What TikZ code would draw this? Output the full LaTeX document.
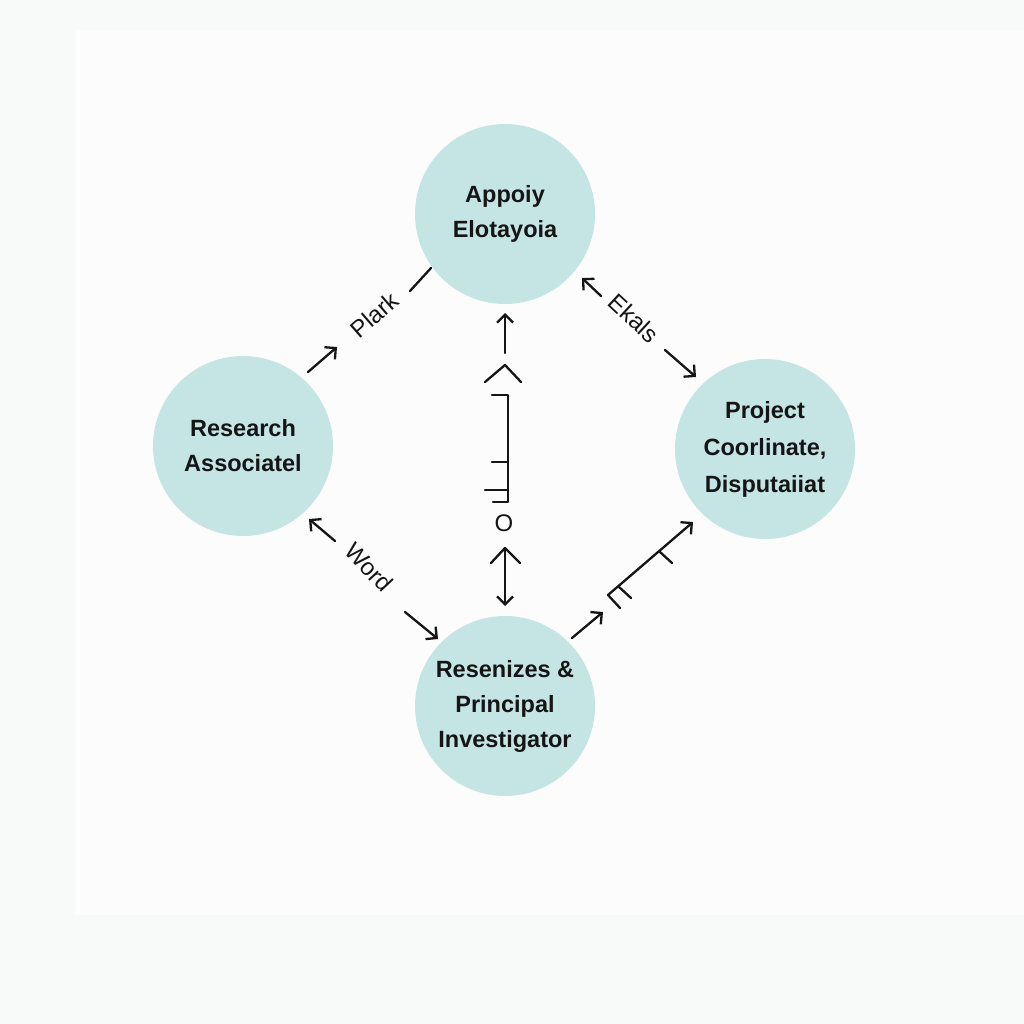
\documentclass[tikz,border=0pt]{standalone}
\usepackage{fontspec}
\setmainfont{Liberation Sans}
\usetikzlibrary{arrows.meta}
\definecolor{circfill}{HTML}{C4E5E4}
\definecolor{ink}{HTML}{151515}
\definecolor{bgA}{HTML}{F8F9F9}
\definecolor{bgB}{HTML}{FCFCFC}
\tikzset{
  role/.style={circle, fill=circfill, minimum size=180pt, inner sep=0pt, align=center,
    text=ink, font=\fontsize{23.5}{35}\selectfont\bfseries},
  lab/.style={text=ink, font=\fontsize{24}{26}\selectfont, inner sep=0pt},
  conn/.style={draw=ink, line width=2.3pt, line cap=round, line join=round},
  tip/.style={-{Straight Barb[length=8pt,width=16pt,line width=2.3pt]}}
}
\begin{document}
\begin{tikzpicture}[x=1pt,y=-1pt]
\useasboundingbox (0,0) rectangle (1024,1024);
\fill[bgA] (0,0) rectangle (1024,1024);
\fill[bgB] (75,30) rectangle (1024,915);

% nodes
\node[role] (T) at (505,214) {Appoiy\\Elotayoia};
\node[role] (L) at (243,446) {Research\\Associatel};
\node[role, font=\fontsize{23.5}{37}\selectfont\bfseries] (R) at (765,449) {Project\\Coorlinate,\\Disputaiiat};
\node[role] (B) at (505,706) {Resenizes \&\\Principal\\Investigator};

% left -> top
\coordinate (a1s) at (308,372); \coordinate (a1e) at (337,347);
\draw[conn,tip] (a1s) -- (a1e);
\node[lab,rotate=41] (plark) at (374,315) {Plark};
\coordinate (a1f) at (410,291); \coordinate (a1g) at (431,268);
\draw[conn] (a1f) -- (a1g);

% top <-> right
\coordinate (a2s) at (601,296); \coordinate (a2e) at (582,278);
\draw[conn,tip] (a2s) -- (a2e);
\node[lab,rotate=-43] (ekals) at (634,318) {Ekals};
\coordinate (a2f) at (665,350); \coordinate (a2g) at (696,377);
\draw[conn,tip] (a2f) -- (a2g);

% left <-> bottom
\coordinate (a3s) at (335,541); \coordinate (a3e) at (309,519);
\draw[conn,tip] (a3s) -- (a3e);
\node[lab,rotate=-47] (word) at (369,567) {Word};
\coordinate (a3f) at (405,612); \coordinate (a3g) at (438,639);
\draw[conn,tip] (a3f) -- (a3g);

% bottom -> right
\coordinate (a4s) at (572,638); \coordinate (a4e) at (603,612);
\draw[conn,tip] (a4s) -- (a4e);
\coordinate (a4f) at (608,595); \coordinate (a4g) at (693,522);
\draw[conn,tip] (a4f) -- (a4g);
\draw[conn] (a4f) -- (620,608);
\draw[conn] (619,587) -- (631,598);
\draw[conn] (660,552) -- (672,563);

% vertical centre
\coordinate (v1s) at (505,353); \coordinate (v1e) at (505,313);
\draw[conn,tip] (v1s) -- (v1e);
\draw[conn] (485,382) -- (505,365) -- (521,382);
\draw[conn] (492,395) -- (508,395) -- (508,502) -- (493,502);
\draw[conn] (492,462) -- (508,462);
\draw[conn] (485,490) -- (508,490);
\node[lab] (o) at (504,523) {O};
\draw[conn] (491,563) -- (505,548) -- (520,563);
\coordinate (v2s) at (505,549); \coordinate (v2e) at (505,606);
\draw[conn,tip] (v2s) -- (v2e);
\end{tikzpicture}
\end{document}
